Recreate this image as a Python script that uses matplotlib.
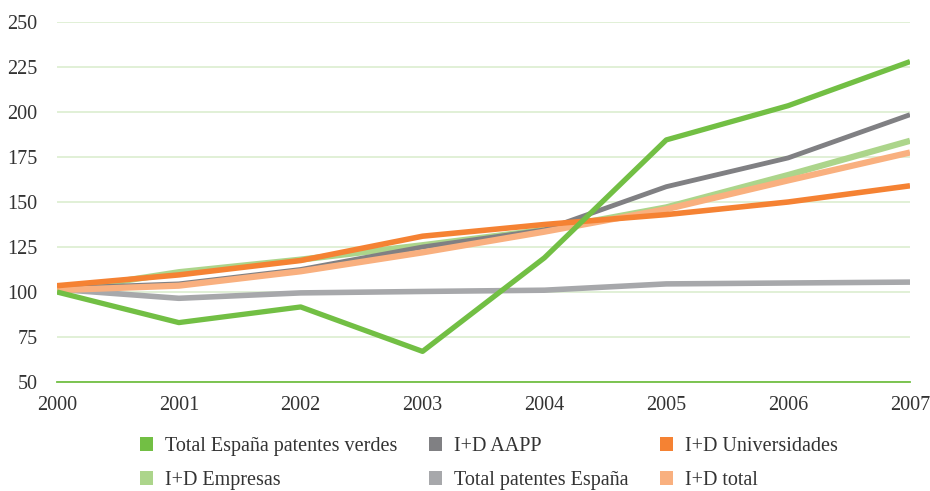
import matplotlib.pyplot as plt
from matplotlib.patches import Patch

years = [2000, 2001, 2002, 2003, 2004, 2005, 2006, 2007]

verdes = [100, 83, 91.7, 67, 119, 184.5, 203.5, 228]
aapp = [102, 104.5, 112.5, 125, 134.5, 158.5, 174.5, 198.5]
universidades = [103.5, 109.5, 117.5, 131, 137.5, 143, 150, 159]
empresas = [100.5, 111, 118, 126, 134.5, 147, 165, 184]
patentes = [101.5, 96.5, 99.5, 100.3, 101, 104.5, 105, 105.5]
id_total = [101, 103.5, 111.5, 122, 133.5, 146, 162, 177.5]

labels = ["Total España patentes verdes", "I+D AAPP", "I+D Universidades",
          "I+D Empresas", "Total patentes España", "I+D total"]
colors = ["#72bf44", "#808083", "#f58233", "#acd58b", "#a7a8ab", "#f9b07f"]

yticks = [50, 75, 100, 125, 150, 175, 200, 225, 250]

plt.rcParams['font.family'] = ['Liberation Serif', 'DejaVu Serif']

fig = plt.figure(figsize=(9.3, 4.91), dpi=100)
ax = fig.add_axes([57 / 930, 1 - 382 / 491, 853 / 930, 360 / 491])

# drawing order matters for overlaps
ax.plot(years, patentes, color=colors[4], lw=4, solid_capstyle='butt', zorder=3)
ax.plot(years, empresas, color=colors[3], lw=4.5, solid_capstyle='butt', zorder=3)
ax.plot(years, aapp, color=colors[1], lw=3.5, solid_capstyle='butt', zorder=3)
ax.plot(years, id_total, color=colors[5], lw=4.5, solid_capstyle='butt', zorder=3)
ax.plot(years, universidades, color=colors[2], lw=4, solid_capstyle='butt', zorder=3)
ax.plot(years, verdes, color=colors[0], lw=3.8, solid_capstyle='butt', zorder=4)

ax.set_xlim(2000, 2007)
ax.set_ylim(50, 250)
ax.set_yticks(yticks)
ax.set_xticks(years)
ax.yaxis.grid(True, color="#dcedcf", lw=1.2)
ax.set_axisbelow(True)
for s in ["top", "right", "left"]:
    ax.spines[s].set_visible(False)
ax.spines["bottom"].set_color("#72bf44")
ax.spines["bottom"].set_linewidth(1.3)
ax.tick_params(axis="both", length=0, labelsize=14.5, colors="#333333")
ax.tick_params(axis="y", pad=14)
ax.tick_params(axis="x", pad=10)

order = [0, 3, 1, 4, 2, 5]
handles = [Patch(facecolor=colors[i], label=labels[i]) for i in order]
fig.legend(handles=handles, loc="upper left", bbox_to_anchor=(122 / 930, 1 - 419 / 491),
           ncol=3, frameon=False, fontsize=14.5, handlelength=0.65, handleheight=0.65,
           handletextpad=0.6, columnspacing=1.55, labelspacing=0.75, labelcolor="#333333")

fig.savefig("out.png", dpi=100)
